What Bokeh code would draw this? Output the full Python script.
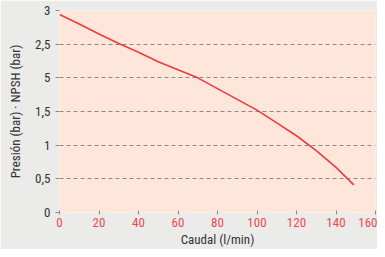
from bokeh.plotting import figure
from bokeh.models import FixedTicker
from bokeh.embed import file_html
from bokeh.resources import INLINE

# Data
caudal = [0, 10, 20, 30, 40, 50, 60, 70, 80, 90, 100, 110, 120, 130, 140, 149]
presion = [2.94, 2.80, 2.65, 2.51, 2.38, 2.24, 2.12, 2.00, 1.84, 1.68, 1.52, 1.33, 1.14, 0.92, 0.67, 0.41]
x_ticks = [0, 20, 40, 60, 80, 100, 120, 140, 160]
y_ticks = [0, 0.5, 1, 1.5, 2, 2.5, 3]
y_tick_labels = ["0", "0,5", "1", "1,5", "5", "2,5", "3"]

FONT = "'Liberation Sans Narrow', 'Roboto Condensed', Roboto, sans-serif"

p = figure(width=377, height=249, x_range=(0, 160), y_range=(0, 3),
           output_backend="svg", toolbar_location=None,
           min_border_left=59, min_border_right=2, min_border_top=10, min_border_bottom=35)
p.background_fill_color = "#fee6da"
p.border_fill_color = "#ebebea"
p.outline_line_color = None

p.line(caudal, presion, line_color="#ee3b3f", line_width=1.6)

p.xgrid.grid_line_color = None
p.ygrid.grid_line_color = "#8a8a8a"
p.ygrid.grid_line_dash = "4 3"
p.ygrid.grid_line_width = 1

p.xaxis.ticker = FixedTicker(ticks=x_ticks)
p.yaxis.ticker = FixedTicker(ticks=y_ticks)
p.yaxis.major_label_overrides = {t: s for t, s in zip(y_ticks, y_tick_labels)}

for ax in (p.xaxis, p.yaxis):
    ax.axis_line_color = None
    ax.minor_tick_line_color = None
    ax.major_tick_line_color = "#8a8a8a"
    ax.major_label_text_font = FONT
    ax.major_label_text_font_size = "13px"
    ax.axis_label_text_font = FONT
    ax.axis_label_text_font_size = "13px"
    ax.axis_label_text_font_style = "normal"
    ax.axis_label_text_color = "#333333"

p.xaxis.major_tick_in = 2
p.xaxis.major_tick_out = 2
p.xaxis.major_label_text_color = "#f0474f"
p.xaxis.major_label_standoff = 3
p.xaxis.axis_label = "Caudal (l/min)"
p.xaxis.axis_label_standoff = 2

p.yaxis.major_tick_in = 0
p.yaxis.major_tick_out = 4
p.yaxis.major_label_text_color = "#333333"
p.yaxis.major_label_standoff = 5
p.yaxis.axis_label = "Presión (bar) · NPSH (bar)"
p.yaxis.axis_label_standoff = 9

open("out.html", "w").write(file_html(p, INLINE))
